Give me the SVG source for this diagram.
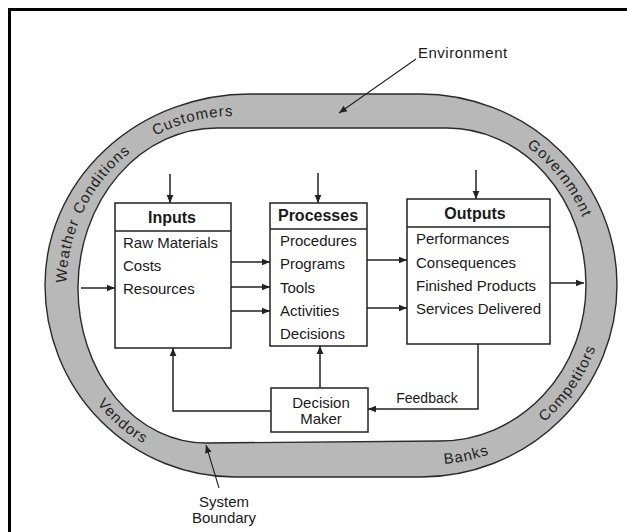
<svg xmlns="http://www.w3.org/2000/svg" xmlns:xlink="http://www.w3.org/1999/xlink" width="627" height="532" viewBox="0 0 627 532">
  <style>
    .frame { stroke: #000; stroke-width: 3; fill: none; }
    .ring { fill: #b8b8b8; stroke: #2a2a2a; stroke-width: 1.4; fill-rule: evenodd; }
    .box { fill: #fff; stroke: #222; stroke-width: 1.5; }
    .div { stroke: #222; stroke-width: 1.5; }
    .wire { fill: none; stroke: #222; stroke-width: 1.5; }
    .lead { fill: none; stroke: #222; stroke-width: 1.1; }
    text { font-family: "Liberation Sans", Arial, sans-serif; fill: #1a1a1a; }
    .head { font-size: 16px; font-weight: bold; text-anchor: middle; }
    .item { font-size: 15px; }
    .mid { text-anchor: middle; }
    .band { font-size: 15px; letter-spacing: 1px; fill: #1e1e1e; }
  </style>
  <defs>
    <marker id="arrow" viewBox="0 0 10 10" refX="10" refY="5" markerWidth="8" markerHeight="8" markerUnits="userSpaceOnUse" orient="auto">
      <path d="M0,0.8 L10,5 L0,9.2 Z" fill="#222"/>
    </marker>
    <!-- baselines for the labels printed in the band -->
    <path id="bandTop" d="M 66.5,286 A 167,170 0 0 1 233.5,116 H 433.5 A 163,170 0 0 1 596.5,286"/>
    <path id="bandBottom" d="M 56.5,287 A 164,177.5 0 0 0 220.5,464.5 H 430.5 A 176,178.5 0 0 0 606.5,286"/>
  </defs>

  <rect width="627" height="532" fill="#fff"/>

  <!-- page frame (top and left rule) -->
  <path class="frame" d="M 9.5,532 V 9.5 H 627"/>

  <!-- environment band -->
  <g id="environment">
    <path class="ring" d="M 250,94 H 420 A 197,191 0 0 1 617,285 A 196,192 0 0 1 421,477 H 235 A 190,192 0 0 1 45,285 A 205,191 0 0 1 250,94 Z
                          M 217,128 H 447 A 139,157 0 0 1 586,285 A 146,156 0 0 1 440,441 L 206,443 A 128,155 0 0 1 78,288 A 139,160 0 0 1 217,128 Z"/>
    <text class="band"><textPath xlink:href="#bandTop" startOffset="3">Weather</textPath></text>
    <text class="band"><textPath xlink:href="#bandTop" startOffset="73">Conditions</textPath></text>
    <text class="band"><textPath xlink:href="#bandTop" startOffset="183">Customers</textPath></text>
    <text class="band"><textPath xlink:href="#bandTop" startOffset="564">Government</textPath></text>
    <text class="band"><textPath xlink:href="#bandBottom" startOffset="126">Vendors</textPath></text>
    <text class="band"><textPath xlink:href="#bandBottom" startOffset="492">Banks</textPath></text>
    <text class="band"><textPath xlink:href="#bandBottom" startOffset="602">Competitors</textPath></text>
  </g>

  <!-- callout labels -->
  <g id="environment-label">
    <text class="item" x="418" y="58" style="letter-spacing:0.5px">Environment</text>
  </g>
  <g id="system-boundary-label">
    <text class="item mid" x="224" y="507">System</text>
    <text class="item mid" x="224" y="523">Boundary</text>
  </g>

  <g id="inputs">
    <rect class="box" x="115" y="203" width="116" height="145"/>
    <line class="div" x1="115" y1="231" x2="231" y2="231"/>
    <text class="head" x="172" y="223">Inputs</text>
    <text class="item" x="123" y="248">Raw Materials</text>
    <text class="item" x="123" y="271">Costs</text>
    <text class="item" x="123" y="294">Resources</text>
  </g>

  <g id="processes">
    <rect class="box" x="270" y="203" width="97" height="143"/>
    <line class="div" x1="270" y1="229" x2="367" y2="229"/>
    <text class="head" x="318" y="221">Processes</text>
    <text class="item" x="280" y="246">Procedures</text>
    <text class="item" x="280" y="269">Programs</text>
    <text class="item" x="280" y="293">Tools</text>
    <text class="item" x="280" y="316">Activities</text>
    <text class="item" x="280" y="339">Decisions</text>
  </g>

  <g id="outputs">
    <rect class="box" x="407" y="199" width="143" height="145"/>
    <line class="div" x1="407" y1="227" x2="550" y2="227"/>
    <text class="head" x="475" y="219">Outputs</text>
    <text class="item" x="416" y="244">Performances</text>
    <text class="item" x="416" y="268">Consequences</text>
    <text class="item" x="416" y="291">Finished Products</text>
    <text class="item" x="416" y="314">Services Delivered</text>
  </g>

  <g id="decision-maker">
    <rect class="box" x="271" y="388" width="97" height="44"/>
    <text class="item mid" x="321" y="408">Decision</text>
    <text class="item mid" x="321" y="424">Maker</text>
  </g>

  <g id="connectors">
    <!-- pointers from callout labels -->
    <line class="lead" x1="416" y1="59" x2="339" y2="113" marker-end="url(#arrow)"/>
    <line class="lead" x1="219" y1="488" x2="206" y2="445" marker-end="url(#arrow)"/>
    <!-- inflows from the environment -->
    <line class="wire" x1="170" y1="174" x2="170" y2="203" marker-end="url(#arrow)"/>
    <line class="wire" x1="318" y1="173" x2="318" y2="203" marker-end="url(#arrow)"/>
    <line class="wire" x1="476" y1="170" x2="476" y2="199" marker-end="url(#arrow)"/>
    <line class="wire" x1="81" y1="288" x2="115" y2="288" marker-end="url(#arrow)"/>
    <!-- inputs to processes -->
    <line class="wire" x1="231" y1="262" x2="270" y2="262" marker-end="url(#arrow)"/>
    <line class="wire" x1="231" y1="287" x2="270" y2="287" marker-end="url(#arrow)"/>
    <line class="wire" x1="231" y1="311" x2="270" y2="311" marker-end="url(#arrow)"/>
    <!-- processes to outputs -->
    <line class="wire" x1="367" y1="260" x2="407" y2="260" marker-end="url(#arrow)"/>
    <line class="wire" x1="367" y1="308" x2="407" y2="308" marker-end="url(#arrow)"/>
    <!-- outflow to the environment -->
    <line class="wire" x1="550" y1="283" x2="584" y2="283" marker-end="url(#arrow)"/>
    <!-- feedback loop -->
    <polyline class="wire" points="478,344 478,409 368,409" marker-end="url(#arrow)"/>
    <text class="mid" x="427" y="403" style="font-size:14px">Feedback</text>
    <line class="wire" x1="320" y1="388" x2="320" y2="346" marker-end="url(#arrow)"/>
    <polyline class="wire" points="271,411 173,411 173,348" marker-end="url(#arrow)"/>
  </g>
</svg>
